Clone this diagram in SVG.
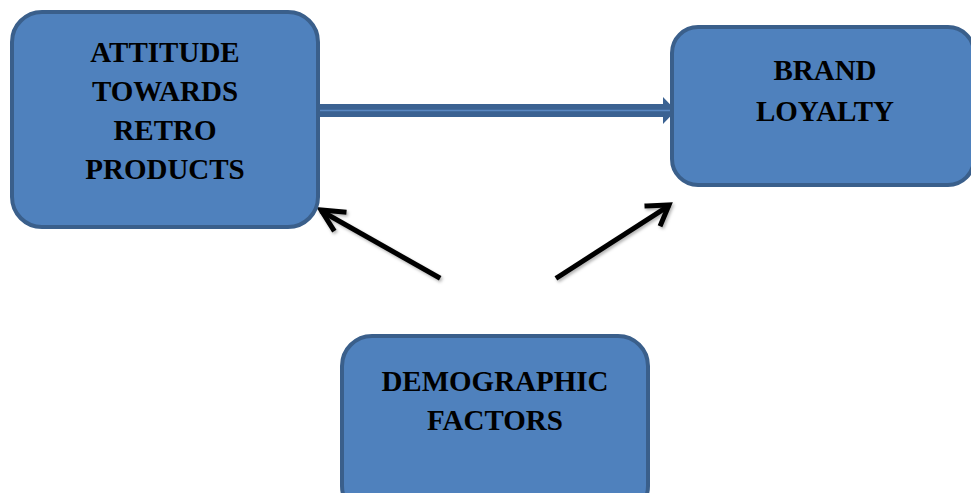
<svg xmlns="http://www.w3.org/2000/svg" width="971" height="493" viewBox="0 0 971 493">
  <defs>
    <style>
      .box { fill: #4f81bd; stroke: #3a5f8b; stroke-width: 4; }
      .lbl { font-family: "Liberation Serif", "Times New Roman", serif; font-weight: bold; font-size: 29px; fill: #000; text-anchor: middle; }
      .blk { fill: none; stroke: #000; stroke-width: 5; stroke-linecap: square; stroke-linejoin: miter; }
    </style>
    <filter id="sh" x="-20%" y="-20%" width="140%" height="140%">
      <feDropShadow dx="1.5" dy="2" stdDeviation="1.5" flood-color="#000" flood-opacity="0.3"/>
    </filter>
  </defs>
  <rect width="971" height="493" fill="#fff"/>

  <g id="connectors">
    <g id="arrow-attitude-brand">
      <polygon points="319,104 663,104 663,97 676,110.5 663,124 663,117 319,117" fill="#3b6292"/>
      <line x1="319" y1="110.5" x2="670" y2="110.5" stroke="#5a88c2" stroke-width="1.5"/>
    </g>
    <g id="arrow-demo-attitude" filter="url(#sh)">
      <line class="blk" x1="438" y1="277" x2="323" y2="212"/>
      <polyline class="blk" points="344,212 321,210 333,229"/>
    </g>
    <g id="arrow-demo-brand" filter="url(#sh)">
      <line class="blk" x1="558" y1="277" x2="667" y2="207"/>
      <polyline class="blk" points="647,206 669,205 661,224"/>
    </g>
  </g>

  <g id="node-attitude">
    <rect class="box" x="12" y="12" width="306" height="215" rx="30" ry="30"/>
    <text class="lbl" x="165" y="62">ATTITUDE</text>
    <text class="lbl" x="165" y="101">TOWARDS</text>
    <text class="lbl" x="165" y="140">RETRO</text>
    <text class="lbl" x="165" y="179">PRODUCTS</text>
  </g>

  <g id="node-brand">
    <rect class="box" x="672" y="27" width="302" height="158" rx="26" ry="26"/>
    <text class="lbl" x="825" y="80">BRAND</text>
    <text class="lbl" x="825" y="121">LOYALTY</text>
  </g>

  <g id="node-demographic">
    <rect class="box" x="342" y="336" width="306" height="180" rx="30" ry="30"/>
    <text class="lbl" x="495" y="391">DEMOGRAPHIC</text>
    <text class="lbl" x="495" y="430">FACTORS</text>
  </g>
</svg>
